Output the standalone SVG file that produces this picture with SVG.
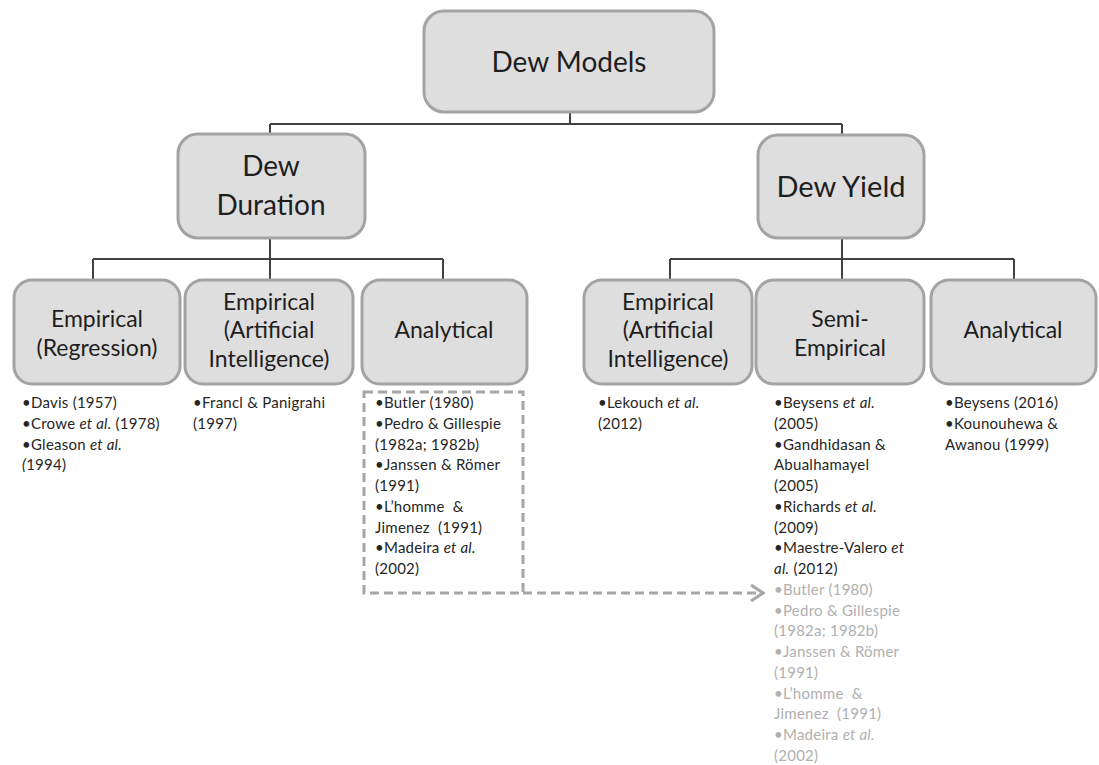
<svg xmlns="http://www.w3.org/2000/svg" width="1099" height="765" viewBox="0 0 1099 765">
  <defs>
    <style>
      .box { fill: #dedede; stroke: #a3a3a3; stroke-width: 3; }
      .conn { fill: none; stroke: #404040; stroke-width: 2; }
      .dash { fill: none; stroke: #a6a6a6; stroke-width: 3; stroke-dasharray: 9 5; }
      .head { fill: none; stroke: #a6a6a6; stroke-width: 3; }
      text { font-family: Lato, "Open Sans", "Liberation Sans", sans-serif; fill: #1e1e1e; }
      .big { font-size: 28px; text-anchor: middle; }
      .mid { font-size: 23px; text-anchor: middle; }
      .ref { font-size: 15px; letter-spacing: 0.25px; fill: #262626; }
      .faded { fill: #b0b0b0; }
      .it { font-style: italic; }
    </style>
  </defs>

  <!-- connectors -->
  <g id="connectors">
    <path class="conn" d="M570 112 V124 M270 124 H842 M270 124 V134 M842 124 V135"/>
    <path class="conn" d="M270 238 V259 M93 259 H443 M93 259 V280 M270 259 V280 M443 259 V280"/>
    <path class="conn" d="M842 238 V259 M670 259 H1014 M670 259 V280 M842 259 V280 M1014 259 V280"/>
    <rect class="dash" x="364" y="392" width="159" height="201"/>
    <path class="dash" d="M523 593 H760"/>
    <path class="head" d="M751 585 L763 593 L751 601"/>
  </g>

  <!-- root -->
  <g id="dew-models">
    <rect class="box" x="424" y="11" width="290" height="101" rx="20"/>
    <text class="big" x="569" y="72">Dew Models</text>
  </g>

  <!-- level 2 -->
  <g id="dew-duration">
    <rect class="box" x="178" y="134" width="187" height="104" rx="20"/>
    <text class="big" x="271" y="176">Dew</text>
    <text class="big" x="271" y="215">Duration</text>
  </g>
  <g id="dew-yield">
    <rect class="box" x="758" y="135" width="166" height="103" rx="20"/>
    <text class="big" x="841" y="197" style="font-size:29px">Dew Yield</text>
  </g>

  <!-- level 3: dew duration -->
  <g id="dd-empirical-regression">
    <rect class="box" x="14" y="280" width="166" height="104" rx="18"/>
    <text class="mid" x="97" y="327">Empirical</text>
    <text class="mid" x="97" y="356">(Regression)</text>
    <text class="ref" x="22" y="408">•Davis (1957)</text>
    <text class="ref" x="22" y="429">•Crowe <tspan class="it">et al.</tspan> (1978)</text>
    <text class="ref" x="22" y="450">•Gleason <tspan class="it">et al.</tspan></text>
    <text class="ref" x="22" y="470"><tspan class="it">(</tspan>1994)</text>
  </g>
  <g id="dd-empirical-ai">
    <rect class="box" x="185" y="280" width="168" height="104" rx="18"/>
    <text class="mid" x="269" y="310">Empirical</text>
    <text class="mid" x="269" y="338">(Artificial</text>
    <text class="mid" x="269" y="367">Intelligence)</text>
    <text class="ref" x="193" y="408">•Francl &amp; Panigrahi</text>
    <text class="ref" x="193" y="429">(1997)</text>
  </g>
  <g id="dd-analytical">
    <rect class="box" x="362" y="280" width="165" height="104" rx="18"/>
    <text class="mid" x="444" y="338">Analytical</text>
    <text class="ref" x="375" y="408">•Butler (1980)</text>
    <text class="ref" x="375" y="429">•Pedro &amp; Gillespie</text>
    <text class="ref" x="375" y="450">(1982a; 1982b)</text>
    <text class="ref" x="375" y="470">•Janssen &amp; Römer</text>
    <text class="ref" x="375" y="491">(1991)</text>
    <text class="ref" x="375" y="512" xml:space="preserve">•L’homme  &amp;</text>
    <text class="ref" x="375" y="533" xml:space="preserve">Jimenez  (1991)</text>
    <text class="ref" x="375" y="553">•Madeira <tspan class="it">et al.</tspan></text>
    <text class="ref" x="375" y="574">(2002)</text>
  </g>

  <!-- level 3: dew yield -->
  <g id="dy-empirical-ai">
    <rect class="box" x="584" y="280" width="168" height="104" rx="18"/>
    <text class="mid" x="668" y="310">Empirical</text>
    <text class="mid" x="668" y="338">(Artificial</text>
    <text class="mid" x="668" y="367">Intelligence)</text>
    <text class="ref" x="598" y="408">•Lekouch <tspan class="it">et al.</tspan></text>
    <text class="ref" x="598" y="429">(2012)</text>
  </g>
  <g id="dy-semi-empirical">
    <rect class="box" x="756" y="280" width="168" height="104" rx="18"/>
    <text class="mid" x="840" y="327">Semi-</text>
    <text class="mid" x="840" y="356">Empirical</text>
    <text class="ref" x="774" y="408">•Beysens <tspan class="it">et al.</tspan></text>
    <text class="ref" x="774" y="429">(2005)</text>
    <text class="ref" x="774" y="450">•Gandhidasan &amp;</text>
    <text class="ref" x="774" y="470">Abualhamayel</text>
    <text class="ref" x="774" y="491">(2005)</text>
    <text class="ref" x="774" y="512">•Richards <tspan class="it">et al.</tspan></text>
    <text class="ref" x="774" y="533">(2009)</text>
    <text class="ref" x="774" y="553">•Maestre-Valero <tspan class="it">et</tspan></text>
    <text class="ref" x="774" y="574"><tspan class="it">al.</tspan> (2012)</text>
    <text class="ref faded" x="774" y="595">•Butler (1980)</text>
    <text class="ref faded" x="774" y="616">•Pedro &amp; Gillespie</text>
    <text class="ref faded" x="774" y="636">(1982a; 1982b)</text>
    <text class="ref faded" x="774" y="657">•Janssen &amp; Römer</text>
    <text class="ref faded" x="774" y="678">(1991)</text>
    <text class="ref faded" x="774" y="699" xml:space="preserve">•L’homme  &amp;</text>
    <text class="ref faded" x="774" y="719" xml:space="preserve">Jimenez  (1991)</text>
    <text class="ref faded" x="774" y="740">•Madeira <tspan class="it">et al.</tspan></text>
    <text class="ref faded" x="774" y="761">(2002)</text>
  </g>
  <g id="dy-analytical">
    <rect class="box" x="931" y="280" width="165" height="104" rx="18"/>
    <text class="mid" x="1013" y="338">Analytical</text>
    <text class="ref" x="945" y="408">•Beysens (2016)</text>
    <text class="ref" x="945" y="429">•Kounouhewa &amp;</text>
    <text class="ref" x="945" y="450">Awanou (1999)</text>
  </g>
</svg>
